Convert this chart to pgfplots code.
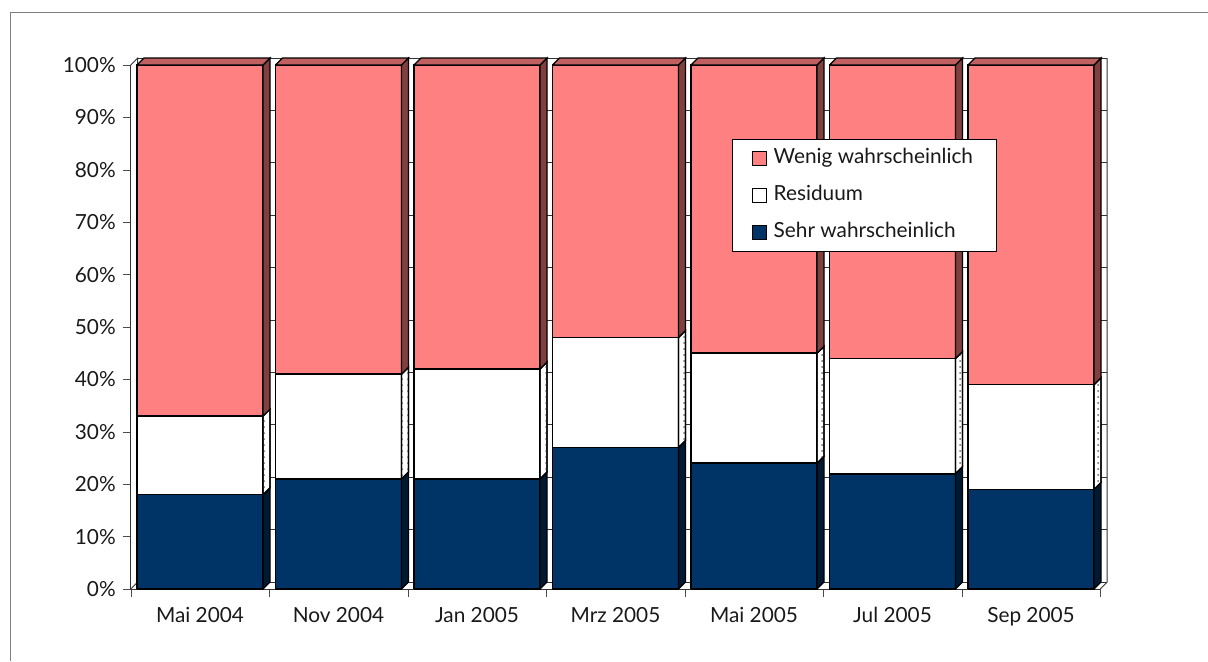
\documentclass[border=0pt]{standalone}
\usepackage{pgfplots}
\usepackage{pgfplotstable}
\pgfplotsset{compat=1.18}
\usepackage{fontspec}
\setmainfont{Lato}
\usetikzlibrary{patterns}
\definecolor{pinkf}{RGB}{255,128,128}
\definecolor{pinks}{RGB}{128,64,64}
\definecolor{pinkt}{RGB}{192,96,96}
\definecolor{navyf}{RGB}{0,51,102}
\definecolor{navys}{RGB}{0,26,51}

\pgfplotstableread{
x sehr resid wenig
0 18 15 67
1 21 20 59
2 21 21 58
3 27 21 52
4 24 21 55
5 22 22 56
6 19 20 61
}\data

\def\bdx{0.0505}
\def\bdy{1.336}
\newcommand\poly[2]{\edef\temp{\noexpand\addplot[#1,forget plot] coordinates {#2};}\temp}

\begin{document}
\begin{tikzpicture}
\path[use as bounding box] (0,0) rectangle (604pt,330.5pt);
\draw[black!50,line width=0.5pt] (5pt,0) -- (5pt,324.5pt) -- (604pt,324.5pt);
\begin{axis}[
  at={(65.375pt,36pt)}, anchor=south west,
  scale only axis, width=484.75pt, height=262pt,
  xmin=-0.5, xmax=6.5, ymin=0, ymax=100,
  clip=false,
  axis x line*=bottom, axis y line*=left,
  axis line style={black!80, line width=0.5pt},
  xtick={0,...,6},
  xticklabels={Mai 2004,Nov 2004,Jan 2005,Mrz 2005,Mai 2005,Jul 2005,Sep 2005},
  major x tick style={draw=none},
  minor xtick={-0.5,0.5,...,6.5},
  minor x tick style={black!70},
  ytick={0,10,...,100},
  yticklabel={\pgfmathprintnumber{\tick}\%},
  y tick style={black!70},
  tick align=outside,
  major tick length=4pt, minor tick length=4pt,
  ticklabel style={font=\fontsize{10.4}{12}\selectfont, text=black!90},
  xticklabel style={yshift=-1.5pt},
  /pgf/number format/assume math mode=true,
  legend style={at={(0.6202,0.8588)}, anchor=north west, draw=black, line width=0.5pt,
    fill=white, font=\fontsize{10.4}{12}\selectfont, text=black!90,
    nodes={text height=7.5pt, text depth=2.5pt, inner sep=2pt},
    column sep=1.5pt,
    row sep=4.5pt, inner xsep=9.5pt, inner ysep=2.5pt},
  legend cell align=left,
  legend image code/.code={\draw[#1,line width=0.6pt] (0pt,-3.5pt) rectangle (7pt,3.5pt);},
]
% back wall gridlines
\pgfplotsforeachungrouped \v in {0,10,...,100}{
  \pgfmathsetmacro\yy{\v+\bdy}
  \pgfmathsetmacro\xa{-0.5+\bdx}
  \pgfmathsetmacro\xb{6.5+\bdx}
  \poly{black!80,line width=0.4pt}{(\xa,\yy) (\xb,\yy)}
}
% left wall and floor outlines
\pgfmathsetmacro\xa{-0.5+\bdx}
\pgfmathsetmacro\xb{6.5+\bdx}
\pgfmathsetmacro\yt{100+\bdy}
\poly{black!80,line width=0.5pt}{(-0.5,100) (\xa,\yt) (\xa,\bdy) (-0.5,0)}
\poly{black!80,line width=0.5pt}{(6.5,0) (\xb,\bdy) (\xb,\yt)}

% bars: front, side and top faces
\pgfplotsforeachungrouped \i in {0,...,6}{
  \pgfplotstablegetelem{\i}{sehr}\of\data \let\va\pgfplotsretval
  \pgfplotstablegetelem{\i}{resid}\of\data \let\vb\pgfplotsretval
  \pgfplotstablegetelem{\i}{wenig}\of\data \let\vc\pgfplotsretval
  \pgfmathsetmacro\yA{\va}
  \pgfmathsetmacro\yB{\va+\vb}
  \pgfmathsetmacro\yC{\va+\vb+\vc}
  \pgfmathsetmacro\yAd{\yA+\bdy}
  \pgfmathsetmacro\yBd{\yB+\bdy}
  \pgfmathsetmacro\yCd{\yC+\bdy}
  \pgfmathsetmacro\xR{\i+0.455}
  \pgfmathsetmacro\xRd{\i+0.455+\bdx}
  \pgfmathsetmacro\xL{\i-0.455}
  \pgfmathsetmacro\xLd{\i-0.455+\bdx}
  \poly{fill=navyf,draw=black,line width=0.8pt}{(\xL,0) (\xR,0) (\xR,\yA) (\xL,\yA) (\xL,0)}
  \poly{fill=white,draw=black,line width=0.8pt}{(\xL,\yA) (\xR,\yA) (\xR,\yB) (\xL,\yB) (\xL,\yA)}
  \poly{fill=pinkf,draw=black,line width=0.8pt}{(\xL,\yB) (\xR,\yB) (\xR,\yC) (\xL,\yC) (\xL,\yB)}
  \poly{fill=navys,draw=black,line width=0.6pt}{(\xR,0) (\xRd,\bdy) (\xRd,\yAd) (\xR,\yA) (\xR,0)}
  \poly{fill=white,draw=black,line width=0.6pt,postaction={pattern=dots,pattern color=black!60}}{(\xR,\yA) (\xRd,\yAd) (\xRd,\yBd) (\xR,\yB) (\xR,\yA)}
  \poly{fill=pinks,draw=black,line width=0.6pt}{(\xR,\yB) (\xRd,\yBd) (\xRd,\yCd) (\xR,\yC) (\xR,\yB)}
  \poly{fill=pinkt,draw=black,line width=0.6pt}{(\xL,\yC) (\xLd,\yCd) (\xRd,\yCd) (\xR,\yC) (\xL,\yC)}
}

\addlegendimage{fill=pinkf,draw=black}
\addlegendentry{Wenig wahrscheinlich}
\addlegendimage{fill=white,draw=black}
\addlegendentry{Residuum}
\addlegendimage{fill=navyf,draw=black}
\addlegendentry{Sehr wahrscheinlich}
\end{axis}
\end{tikzpicture}
\end{document}
